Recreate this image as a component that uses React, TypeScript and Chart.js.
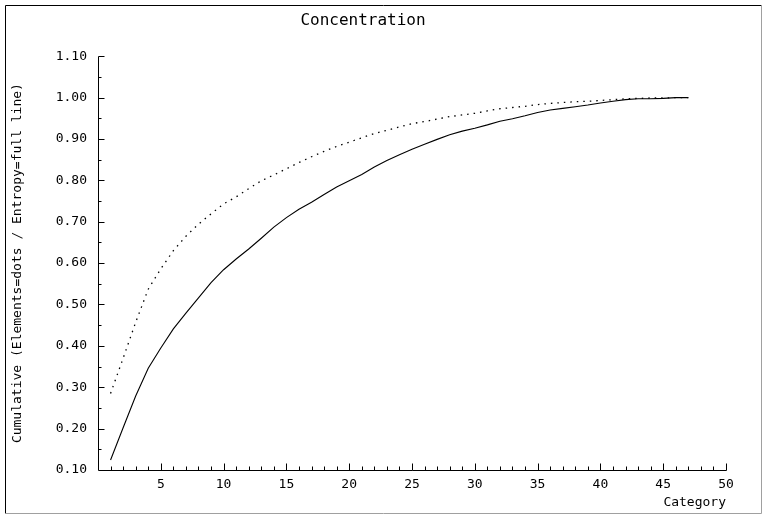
import React, { useEffect, useRef } from "react";
import { Chart, registerables } from "chart.js";

Chart.register(...registerables);

const categories = [
  1, 2, 3, 4, 5, 6, 7, 8, 9, 10, 11, 12, 13, 14, 15, 16, 17, 18, 19, 20, 21, 22, 23, 24,
  25, 26, 27, 28, 29, 30, 31, 32, 33, 34, 35, 36, 37, 38, 39, 40, 41, 42, 43, 44, 45, 46, 47,
];

// Entropy = full line
const entropyCumulative = [
  0.124, 0.202, 0.279, 0.346, 0.395, 0.441, 0.479, 0.516, 0.553, 0.584, 0.61, 0.634,
  0.66, 0.687, 0.71, 0.73, 0.747, 0.766, 0.784, 0.799, 0.814, 0.832, 0.848, 0.862,
  0.875, 0.887, 0.899, 0.91, 0.919, 0.926, 0.934, 0.943, 0.949, 0.956, 0.964, 0.97,
  0.974, 0.978, 0.982, 0.987, 0.991, 0.995, 0.997, 0.997, 0.998, 1.0, 1.0,
];

// Elements = dots
const elementsCumulative = [
  0.285, 0.37, 0.457, 0.537, 0.586, 0.63, 0.665, 0.694, 0.719, 0.743, 0.76, 0.78,
  0.799, 0.813, 0.828, 0.843, 0.857, 0.87, 0.882, 0.892, 0.903, 0.913, 0.921, 0.929,
  0.937, 0.942, 0.948, 0.954, 0.958, 0.962, 0.968, 0.973, 0.976, 0.979, 0.983, 0.986,
  0.988, 0.99, 0.991, 0.993, 0.995, 0.997, 0.998, 0.999, 0.999, 1.0, 1.0,
];

const chartTitle = "Concentration";
const yAxisTitle = "Cumulative (Elements=dots / Entropy=full line)";
const xAxisTitle = "Category";

const X_MIN = 0;
const X_MAX = 50;
const X_MAJOR = 5;
const X_MINOR = 1;
const Y_MIN = 0.1;
const Y_MAX = 1.1;
const Y_MAJOR = 0.1;
const Y_MINOR = 0.05;

const FONT = "'DejaVu Sans Mono', monospace";

const framePlugin = {
  id: "frameAndTicks",
  beforeDraw(chart: any) {
    const { ctx, width, height } = chart;
    ctx.save();
    ctx.fillStyle = "#ffffff";
    ctx.fillRect(0, 0, width, height);
    ctx.lineWidth = 1;
    ctx.strokeStyle = "#000000";
    ctx.beginPath();
    ctx.moveTo(5.5, height - 0.5);
    ctx.lineTo(5.5, 5.5);
    ctx.lineTo(width - 3.5, 5.5);
    ctx.stroke();
    ctx.strokeStyle = "#a0a0a0";
    ctx.beginPath();
    ctx.moveTo(width - 3.5, 5.5);
    ctx.lineTo(width - 3.5, height - 0.5);
    ctx.lineTo(5.5, height - 0.5);
    ctx.stroke();
    ctx.restore();
  },
  afterDraw(chart: any) {
    const { ctx, chartArea, scales } = chart;
    const xs = scales.x;
    const ys = scales.y;
    const L = Math.round(chartArea.left) + 0.5;
    const B = Math.round(chartArea.bottom) + 0.5;
    const R = Math.round(xs.getPixelForValue(X_MAX)) + 0.5;
    const T = Math.round(ys.getPixelForValue(Y_MAX)) + 0.5;
    ctx.save();
    ctx.strokeStyle = "#000000";
    ctx.lineWidth = 1;
    ctx.beginPath();
    ctx.moveTo(L, T);
    ctx.lineTo(L, B);
    ctx.lineTo(R, B);
    ctx.stroke();
    ctx.beginPath();
    const nx = Math.round((X_MAX - X_MIN) / X_MINOR);
    for (let i = 1; i <= nx; i++) {
      const v = X_MIN + i * X_MINOR;
      const px = Math.round(xs.getPixelForValue(v)) + 0.5;
      const major = Math.abs(v / X_MAJOR - Math.round(v / X_MAJOR)) < 1e-6;
      const len = major ? 7 : 4;
      ctx.moveTo(px, B);
      ctx.lineTo(px, B - len);
    }
    const ny = Math.round((Y_MAX - Y_MIN) / Y_MINOR);
    for (let i = 1; i <= ny; i++) {
      const v = Y_MIN + i * Y_MINOR;
      const py = Math.round(ys.getPixelForValue(v)) + 0.5;
      const major = i % 2 === 0;
      const len = major ? 6 : 3;
      ctx.moveTo(L, py);
      ctx.lineTo(L + len, py);
    }
    ctx.stroke();
    ctx.restore();
  },
};

export default function App() {
  const canvasRef = useRef<HTMLCanvasElement | null>(null);

  useEffect(() => {
    const canvas = canvasRef.current;
    if (!canvas) return;
    const chart = new Chart(canvas, {
      type: "line",
      data: {
        datasets: [
          {
            label: "Entropy",
            data: categories.map((c, i) => ({ x: c, y: entropyCumulative[i] })),
            borderColor: "#000000",
            borderWidth: 1.1,
            pointRadius: 0,
            tension: 0,
            fill: false,
          },
          {
            label: "Elements",
            data: categories.map((c, i) => ({ x: c, y: elementsCumulative[i] })),
            borderColor: "#000000",
            borderWidth: 1.3,
            borderDash: [1.5, 5],
            pointRadius: 0,
            tension: 0,
            fill: false,
          },
        ],
      },
      options: {
        responsive: false,
        animation: false,
        events: [],
        layout: { padding: { left: 0, right: 39, top: 0, bottom: 0 } },
        plugins: {
          legend: { display: false },
          tooltip: { enabled: false },
          title: {
            display: true,
            text: chartTitle,
            color: "#000000",
            font: { family: FONT, size: 16, weight: "normal" },
            padding: { top: 11, bottom: 26 },
          },
        },
        scales: {
          x: {
            type: "linear",
            min: X_MIN,
            max: X_MAX,
            grid: { display: false, drawTicks: false },
            border: { display: false },
            ticks: {
              stepSize: X_MAJOR,
              padding: 7,
              color: "#000000",
              maxRotation: 0,
              autoSkip: false,
              font: { family: FONT, size: 13 },
              callback: (v: any) => (Number(v) === 0 ? "" : String(v)),
            },
            title: {
              display: true,
              text: xAxisTitle,
              align: "end",
              color: "#000000",
              font: { family: FONT, size: 13 },
              padding: { top: 0, bottom: 4 },
            },
            afterFit: (scale: any) => {
              scale.height = 44;
            },
          },
          y: {
            type: "linear",
            min: Y_MIN,
            max: Y_MAX,
            grid: { display: false, drawTicks: false },
            border: { display: false },
            ticks: {
              stepSize: Y_MAJOR,
              padding: 11,
              color: "#000000",
              autoSkip: false,
              font: { family: FONT, size: 13 },
              callback: (v: any) => Number(v).toFixed(2),
            },
            title: {
              display: true,
              text: yAxisTitle,
              color: "#000000",
              font: { family: FONT, size: 13 },
              padding: { top: 10, bottom: 0 },
            },
            afterFit: (scale: any) => {
              scale.width = 98;
            },
          },
        },
      },
      plugins: [framePlugin],
    });
    return () => chart.destroy();
  }, []);

  return (
    <div style={{ position: "absolute", left: 0, top: 0, width: 765, height: 514, background: "#fff" }}>
      <canvas ref={canvasRef} width={765} height={514} style={{ display: "block" }} />
    </div>
  );
}
